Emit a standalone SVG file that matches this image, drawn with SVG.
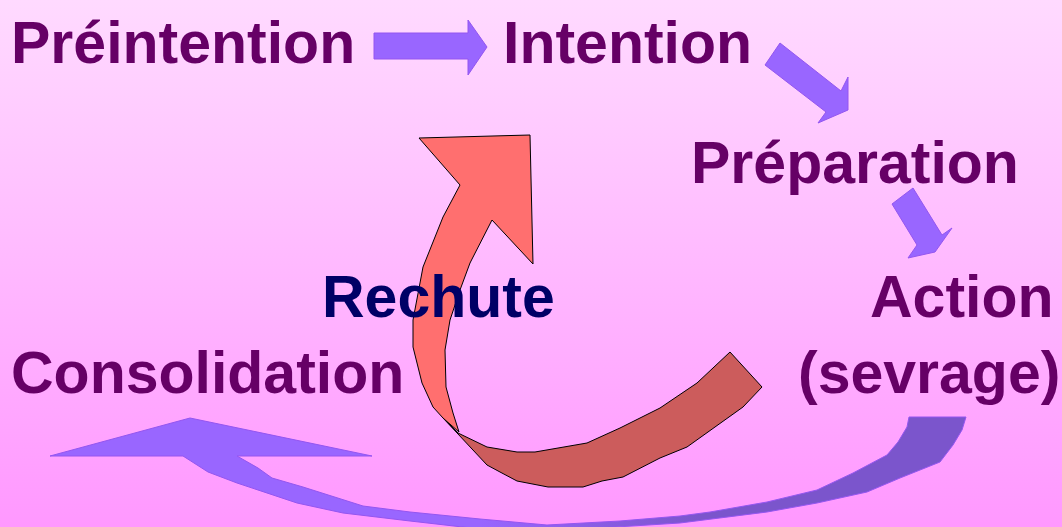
<svg xmlns="http://www.w3.org/2000/svg" width="1062" height="527" viewBox="0 0 1062 527">
<defs>
<linearGradient id="bg" x1="0" y1="0" x2="0" y2="1">
<stop offset="0" stop-color="#FFDAFF"/>
<stop offset="1" stop-color="#FF98FF"/>
</linearGradient>
<linearGradient id="bottomArrow" gradientUnits="userSpaceOnUse" x1="480" y1="0" x2="700" y2="0">
<stop offset="0" stop-color="#9966FF"/>
<stop offset="1" stop-color="#7B55CC"/>
</linearGradient>
<style>
.lbl{font-family:"Liberation Sans",Arial,sans-serif;font-weight:bold;font-size:59px;fill:#660066}
.rech{fill:#000066}
.blue{fill:#9966FF;stroke:#9455F0;stroke-width:1}
.red1{fill:#FF6F6F;stroke:#000;stroke-width:1;stroke-linejoin:round}
.red2{fill:#CC5C5C;stroke:#000;stroke-width:1;stroke-linejoin:round}
</style>
</defs>
<rect x="0" y="0" width="1062" height="527" fill="url(#bg)"/>
<g id="connectors">
<polygon class="blue" points="374,33 468,33 468,20 487,47 468,75 468,59 374,59"/>
<polygon class="blue" points="780,43 841,91 848,77 848,110 818,123 826,112 765,65"/>
<polygon class="blue" points="892,204 913,188 942,235 952,228 935,252 908,258 917,245"/>
<polygon fill="url(#bottomArrow)" stroke="#9455F0" stroke-width="1" points="50,456 190,418 372,456 237,456 258,468 272,478 303,487 363,506 410,512 480,519 547,525 620,521 680,516 710,512 767,502 817,490 853,473 887,455 898,442 907,427 909,417 966,417 962,430 953,445 940,462 900,478 867,492 817,503 767,512 680,523 600,528 547,532 480,529 410,521 343,513 297,503 237,483 208,472 183,456"/>
<polygon class="red2" points="443,418 458,433 487,447 517,452 535,452 587,443 620,428 660,408 697,383 730,352 762,387 743,407 687,447 660,458 623,477 602,481 583,487 548,487 517,481 500,472 487,465"/>
<polygon class="red1" points="419,138 530,135 533,264 492,220 470,263 460,290 450,320 445,350 446,387 453,413 459,432 443,418 433,407 422,383 413,347 413,320 423,267 443,217 460,185"/>
</g>
<g id="preintention"><text class="lbl" x="11" y="63">Préintention</text></g>
<g id="intention"><text class="lbl" x="503" y="63">Intention</text></g>
<g id="preparation"><text class="lbl" x="691" y="183">Préparation</text></g>
<g id="rechute"><text class="lbl rech" x="322" y="317">Rechute</text></g>
<g id="action"><text class="lbl" x="870" y="317">Action</text><text class="lbl" x="798" y="393">(sevrage)</text></g>
<g id="consolidation"><text class="lbl" x="11" y="393">Consolidation</text></g>
</svg>
